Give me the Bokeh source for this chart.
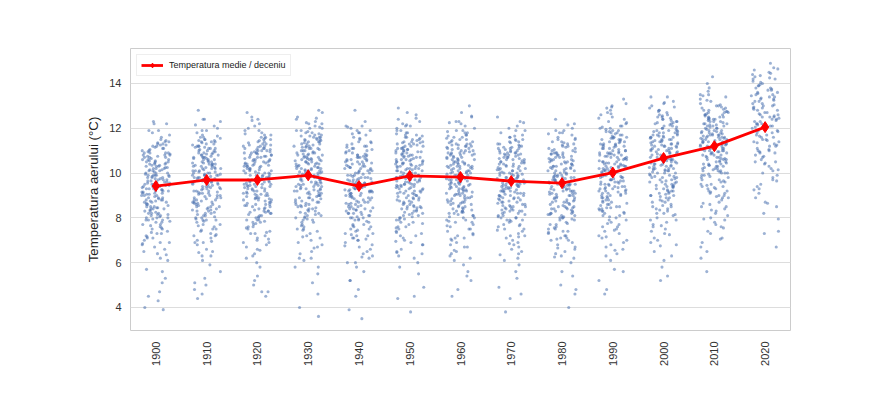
import math
from bokeh.plotting import figure
from bokeh.models import ColumnDataSource, Range1d, FactorRange, FixedTicker
from bokeh.transform import jitter
from bokeh.embed import file_html
from bokeh.resources import INLINE

decades = ["1900", "1910", "1920", "1930", "1940", "1950", "1960",
           "1970", "1980", "1990", "2000", "2010", "2020"]

decade_means = [9.42, 9.69, 9.69, 9.90, 9.42, 9.87, 9.82,
                9.64, 9.55, 10.02, 10.67, 11.20, 12.05]

t_1900 = [3.9, 4.0, 4.3, 4.5, 4.7, 5.1, 5.3, 5.6, 5.7,
          6.1, 6.2, 6.4, 6.5, 6.6, 6.7, 6.8, 6.9, 6.9,
          7.0, 7.1, 7.1, 7.2, 7.3, 7.3, 7.4, 7.5, 7.5, 7.6, 7.7, 7.7, 7.8, 7.8, 7.9, 7.9, 7.9,
          8.0, 8.0, 8.0, 8.1, 8.1, 8.2, 8.2, 8.2, 8.3, 8.3, 8.4, 8.4, 8.4, 8.5, 8.5, 8.5, 8.6, 8.6,
          8.7, 8.7, 8.7, 8.8, 8.8, 8.8, 8.9, 8.9, 8.9,
          9.0, 9.0, 9.0, 9.1, 9.1, 9.1, 9.2, 9.2, 9.2, 9.3, 9.3, 9.3, 9.4, 9.4, 9.4, 9.4, 9.5, 9.5,
          9.5, 9.6, 9.6, 9.6, 9.7, 9.7, 9.7, 9.8, 9.8, 9.8, 9.9, 9.9, 9.9, 9.9, 9.9,
          10.0, 10.0, 10.0, 10.1, 10.1, 10.1, 10.2, 10.2, 10.2, 10.3, 10.3, 10.3, 10.4, 10.4, 10.4,
          10.5, 10.5, 10.5, 10.6, 10.6, 10.6, 10.7, 10.7, 10.7, 10.8, 10.8, 10.8, 10.9, 10.9, 10.9, 10.9,
          11.0, 11.0, 11.1, 11.1, 11.2, 11.2, 11.3, 11.3, 11.4, 11.4, 11.5, 11.6, 11.7, 11.8, 11.9, 11.9,
          12.2, 12.2, 12.3,
          6.35, 6.85, 7.15, 7.35, 7.55, 7.65, 7.85, 7.95,
          8.05, 8.15, 8.25, 8.35, 8.45, 8.55, 8.65, 8.75, 8.85, 8.95, 8.15, 8.45, 8.75,
          9.05, 9.15, 9.25, 9.35, 9.45, 9.55, 9.65, 9.75, 9.85, 9.95, 9.05, 9.25, 9.45, 9.65, 9.85,
          9.15, 9.55, 9.75,
          10.05, 10.15, 10.25, 10.35, 10.45, 10.55, 10.65, 10.75, 10.85, 10.95, 10.15, 10.35, 10.55,
          10.75, 10.25, 10.45,
          11.05, 11.15, 11.25, 11.35, 11.45, 11.25]

t_1910 = [4.4, 4.6, 4.8, 5.0, 5.1, 5.3, 5.6, 5.9,
          6.1, 6.3, 6.3, 6.5, 6.6, 6.8, 6.9, 6.9,
          7.0, 7.1, 7.2, 7.2, 7.3, 7.4, 7.5, 7.5, 7.6, 7.7, 7.7, 7.8, 7.9, 7.9, 7.9,
          8.0, 8.0, 8.1, 8.1, 8.2, 8.2, 8.3, 8.3, 8.4, 8.4, 8.5, 8.5, 8.5, 8.6, 8.6, 8.7, 8.7, 8.7,
          8.8, 8.8, 8.8, 8.9, 8.9, 8.9,
          9.0, 9.0, 9.0, 9.1, 9.1, 9.1, 9.2, 9.2, 9.2, 9.3, 9.3, 9.3, 9.4, 9.4, 9.4, 9.5, 9.5, 9.5,
          9.6, 9.6, 9.6, 9.7, 9.7, 9.7, 9.8, 9.8, 9.8, 9.9, 9.9, 9.9, 9.9, 9.9,
          10.0, 10.0, 10.0, 10.1, 10.1, 10.1, 10.2, 10.2, 10.2, 10.2, 10.3, 10.3, 10.3, 10.4, 10.4,
          10.4, 10.4, 10.5, 10.5, 10.5, 10.6, 10.6, 10.6, 10.7, 10.7, 10.7, 10.7, 10.8, 10.8, 10.8,
          10.9, 10.9, 10.9,
          11.0, 11.0, 11.0, 11.1, 11.1, 11.1, 11.2, 11.2, 11.2, 11.3, 11.3, 11.4, 11.4, 11.4, 11.5,
          11.5, 11.6, 11.6, 11.7, 11.8, 11.9, 11.9,
          12.0, 12.1, 12.3, 12.4, 12.4, 12.8,
          6.45, 6.95, 7.25, 7.45, 7.65, 7.85, 7.95,
          8.05, 8.15, 8.25, 8.35, 8.45, 8.55, 8.65, 8.75, 8.85, 8.95, 8.35, 8.65,
          9.05, 9.15, 9.25, 9.35, 9.45, 9.55, 9.65, 9.75, 9.85, 9.95, 9.15, 9.35, 9.55, 9.75, 9.95,
          10.05, 10.15, 10.25, 10.35, 10.45, 10.55, 10.65, 10.75, 10.85, 10.95, 10.05, 10.25, 10.45,
          10.65, 10.85, 10.35,
          11.05, 11.15, 11.25, 11.35, 11.45, 11.55, 11.65, 11.15, 11.45, 12.15]

t_1920 = [4.5, 4.7, 4.7, 5.0, 5.2, 5.4, 5.8,
          6.0, 6.2, 6.3, 6.4, 6.6, 6.7, 6.8, 6.9, 6.9,
          7.0, 7.1, 7.2, 7.3, 7.3, 7.4, 7.5, 7.6, 7.6, 7.7, 7.8, 7.8, 7.9, 7.9, 7.9,
          8.0, 8.0, 8.1, 8.1, 8.2, 8.2, 8.3, 8.3, 8.3, 8.4, 8.4, 8.5, 8.5, 8.6, 8.6, 8.6, 8.7, 8.7,
          8.8, 8.8, 8.8, 8.9, 8.9, 8.9,
          9.0, 9.0, 9.0, 9.1, 9.1, 9.1, 9.2, 9.2, 9.2, 9.3, 9.3, 9.3, 9.4, 9.4, 9.4, 9.5, 9.5, 9.5,
          9.5, 9.6, 9.6, 9.6, 9.7, 9.7, 9.7, 9.8, 9.8, 9.8, 9.9, 9.9, 9.9,
          10.0, 10.0, 10.0, 10.0, 10.1, 10.1, 10.1, 10.2, 10.2, 10.2, 10.3, 10.3, 10.3, 10.3, 10.4,
          10.4, 10.4, 10.5, 10.5, 10.5, 10.6, 10.6, 10.6, 10.7, 10.7, 10.7, 10.8, 10.8, 10.8, 10.9,
          10.9, 10.9, 10.9,
          11.0, 11.0, 11.0, 11.1, 11.1, 11.1, 11.2, 11.2, 11.2, 11.3, 11.3, 11.4, 11.4, 11.5, 11.5,
          11.6, 11.6, 11.7, 11.7, 11.8, 11.9, 11.9,
          12.0, 12.1, 12.2, 12.4, 12.5, 12.7,
          6.55, 7.05, 7.35, 7.55, 7.75, 7.85,
          8.05, 8.15, 8.25, 8.35, 8.45, 8.55, 8.65, 8.75, 8.85, 8.95, 8.25, 8.55, 8.85,
          9.05, 9.15, 9.25, 9.35, 9.45, 9.55, 9.65, 9.75, 9.85, 9.95, 9.05, 9.35, 9.65, 9.85, 9.45,
          10.05, 10.15, 10.25, 10.35, 10.45, 10.55, 10.65, 10.75, 10.85, 10.95, 10.15, 10.35, 10.55,
          10.75, 10.95, 10.45,
          11.05, 11.15, 11.25, 11.35, 11.45, 11.55, 11.75, 11.25, 11.05, 12.35]

t_1930 = [3.6, 4.0, 4.6, 5.1, 5.5, 5.8, 5.8,
          6.1, 6.2, 6.2, 6.4, 6.5, 6.7, 6.8, 6.9,
          7.0, 7.1, 7.2, 7.3, 7.4, 7.5, 7.5, 7.6, 7.7, 7.8, 7.8, 7.9, 7.9,
          8.0, 8.0, 8.1, 8.1, 8.2, 8.2, 8.3, 8.3, 8.4, 8.4, 8.5, 8.5, 8.6, 8.6, 8.7, 8.7, 8.7, 8.8,
          8.8, 8.9, 8.9, 8.9,
          9.0, 9.0, 9.0, 9.1, 9.1, 9.1, 9.2, 9.2, 9.2, 9.3, 9.3, 9.3, 9.4, 9.4, 9.4, 9.5, 9.5, 9.5,
          9.6, 9.6, 9.6, 9.7, 9.7, 9.7, 9.8, 9.8, 9.8, 9.9, 9.9, 9.9,
          10.0, 10.0, 10.0, 10.0, 10.1, 10.1, 10.1, 10.2, 10.2, 10.2, 10.2, 10.3, 10.3, 10.3, 10.4,
          10.4, 10.4, 10.4, 10.5, 10.5, 10.5, 10.6, 10.6, 10.6, 10.6, 10.7, 10.7, 10.7, 10.8, 10.8,
          10.8, 10.9, 10.9, 10.9,
          11.0, 11.0, 11.0, 11.1, 11.1, 11.1, 11.2, 11.2, 11.2, 11.3, 11.3, 11.3, 11.4, 11.4, 11.4,
          11.5, 11.5, 11.5, 11.6, 11.6, 11.6, 11.7, 11.7, 11.8, 11.8, 11.9, 11.9,
          12.0, 12.0, 12.1, 12.2, 12.2, 12.3, 12.4, 12.5, 12.7, 12.8,
          6.65, 7.15, 7.45, 7.65, 7.95,
          8.05, 8.25, 8.35, 8.45, 8.55, 8.65, 8.75, 8.85, 8.95, 8.15, 8.55,
          9.05, 9.15, 9.25, 9.35, 9.45, 9.55, 9.65, 9.75, 9.85, 9.95, 9.25, 9.55, 9.75, 9.95, 9.45,
          10.05, 10.15, 10.25, 10.35, 10.45, 10.55, 10.65, 10.75, 10.85, 10.95, 10.05, 10.25, 10.45,
          10.65, 10.85, 10.15, 10.55,
          11.05, 11.15, 11.25, 11.35, 11.45, 11.55, 11.65, 11.75, 11.85, 11.15, 11.45, 11.65,
          12.05, 12.25, 12.45]

t_1940 = [3.5, 3.9, 4.5, 4.8, 5.2, 5.2, 5.6, 5.8,
          6.0, 6.0, 6.2, 6.3, 6.4, 6.5, 6.6, 6.7, 6.8, 6.9,
          7.0, 7.0, 7.1, 7.1, 7.2, 7.2, 7.3, 7.3, 7.4, 7.5, 7.5, 7.6, 7.6, 7.7, 7.7, 7.8, 7.9, 7.9,
          8.0, 8.0, 8.0, 8.1, 8.1, 8.2, 8.2, 8.2, 8.3, 8.3, 8.4, 8.4, 8.4, 8.5, 8.5, 8.5, 8.6, 8.6,
          8.7, 8.7, 8.7, 8.8, 8.8, 8.9, 8.9, 8.9,
          9.0, 9.0, 9.0, 9.1, 9.1, 9.1, 9.2, 9.2, 9.2, 9.2, 9.3, 9.3, 9.3, 9.4, 9.4, 9.4, 9.5, 9.5,
          9.5, 9.5, 9.6, 9.6, 9.6, 9.7, 9.7, 9.7, 9.8, 9.8, 9.8, 9.9, 9.9, 9.9,
          10.0, 10.0, 10.0, 10.1, 10.1, 10.1, 10.2, 10.2, 10.2, 10.3, 10.3, 10.3, 10.4, 10.4, 10.4,
          10.5, 10.5, 10.5, 10.6, 10.6, 10.6, 10.7, 10.7, 10.7, 10.8, 10.8, 10.8, 10.9, 10.9,
          11.0, 11.0, 11.1, 11.1, 11.2, 11.2, 11.3, 11.4, 11.4, 11.5, 11.6, 11.7, 11.8, 11.8, 11.9, 11.9,
          12.0, 12.1, 12.1, 12.3, 12.8,
          6.25, 6.75, 7.05, 7.25, 7.45, 7.65, 7.85, 7.95,
          8.05, 8.15, 8.25, 8.35, 8.45, 8.55, 8.65, 8.75, 8.85, 8.95, 8.35, 8.65, 8.95,
          9.05, 9.15, 9.25, 9.35, 9.45, 9.55, 9.65, 9.75, 9.85, 9.95, 9.15, 9.35, 9.55, 9.75, 9.25,
          10.05, 10.15, 10.25, 10.35, 10.45, 10.55, 10.65, 10.75, 10.85, 10.95, 10.25, 10.55, 10.75,
          11.05, 11.15, 11.25, 11.35, 11.55, 11.75, 12.05]

t_1950 = [3.8, 4.4, 4.5, 4.9, 5.5, 5.8,
          6.0, 6.2, 6.3, 6.4, 6.5, 6.6, 6.8, 6.8, 6.9,
          7.0, 7.1, 7.2, 7.2, 7.3, 7.4, 7.5, 7.6, 7.6, 7.7, 7.8, 7.8, 7.9, 7.9,
          8.0, 8.0, 8.1, 8.1, 8.2, 8.2, 8.3, 8.3, 8.4, 8.4, 8.5, 8.5, 8.5, 8.6, 8.6, 8.7, 8.7, 8.8,
          8.8, 8.9, 8.9, 8.9,
          9.0, 9.0, 9.0, 9.1, 9.1, 9.1, 9.2, 9.2, 9.2, 9.3, 9.3, 9.3, 9.4, 9.4, 9.4, 9.5, 9.5, 9.5,
          9.5, 9.6, 9.6, 9.6, 9.7, 9.7, 9.7, 9.8, 9.8, 9.8, 9.9, 9.9, 9.9,
          10.0, 10.0, 10.0, 10.0, 10.1, 10.1, 10.1, 10.2, 10.2, 10.2, 10.2, 10.3, 10.3, 10.3, 10.4,
          10.4, 10.4, 10.4, 10.5, 10.5, 10.5, 10.6, 10.6, 10.6, 10.6, 10.7, 10.7, 10.7, 10.8, 10.8,
          10.8, 10.9, 10.9, 10.9,
          11.0, 11.0, 11.0, 11.1, 11.1, 11.1, 11.2, 11.2, 11.2, 11.3, 11.3, 11.3, 11.4, 11.4, 11.4,
          11.5, 11.5, 11.6, 11.6, 11.7, 11.7, 11.8, 11.8, 11.9, 11.9,
          12.0, 12.1, 12.1, 12.2, 12.3, 12.4, 12.6, 12.7, 12.9,
          6.45, 6.95, 7.35, 7.55, 7.75, 7.95,
          8.05, 8.15, 8.25, 8.35, 8.45, 8.55, 8.65, 8.75, 8.85, 8.95, 8.45, 8.75,
          9.05, 9.15, 9.25, 9.35, 9.45, 9.55, 9.65, 9.75, 9.85, 9.95, 9.15, 9.45, 9.65, 9.85, 9.35,
          10.05, 10.15, 10.25, 10.35, 10.45, 10.55, 10.65, 10.75, 10.85, 10.95, 10.15, 10.35, 10.55,
          10.75, 10.95, 10.45,
          11.05, 11.15, 11.25, 11.35, 11.45, 11.55, 11.65, 11.75, 11.35, 11.05, 12.15, 12.45]

t_1960 = [4.5, 4.8, 5.2, 5.4, 5.6, 5.9,
          6.1, 6.2, 6.3, 6.4, 6.5, 6.7, 6.7, 6.8, 6.9,
          7.0, 7.1, 7.1, 7.2, 7.3, 7.4, 7.5, 7.5, 7.6, 7.7, 7.8, 7.8, 7.9, 7.9,
          8.0, 8.0, 8.1, 8.1, 8.2, 8.2, 8.3, 8.3, 8.3, 8.4, 8.4, 8.5, 8.5, 8.6, 8.6, 8.7, 8.7, 8.7,
          8.8, 8.8, 8.9, 8.9, 8.9,
          9.0, 9.0, 9.0, 9.1, 9.1, 9.1, 9.2, 9.2, 9.2, 9.3, 9.3, 9.3, 9.4, 9.4, 9.4, 9.5, 9.5, 9.5,
          9.5, 9.6, 9.6, 9.6, 9.7, 9.7, 9.7, 9.8, 9.8, 9.8, 9.9, 9.9, 9.9,
          10.0, 10.0, 10.0, 10.0, 10.1, 10.1, 10.1, 10.2, 10.2, 10.2, 10.3, 10.3, 10.3, 10.3, 10.4,
          10.4, 10.4, 10.5, 10.5, 10.5, 10.6, 10.6, 10.6, 10.7, 10.7, 10.7, 10.8, 10.8, 10.8, 10.9,
          10.9, 10.9, 10.9,
          11.0, 11.0, 11.0, 11.1, 11.1, 11.1, 11.2, 11.2, 11.2, 11.3, 11.3, 11.3, 11.4, 11.4, 11.5,
          11.5, 11.6, 11.6, 11.7, 11.7, 11.8, 11.8, 11.9, 11.9,
          12.0, 12.1, 12.2, 12.3, 12.3, 12.5, 12.7, 13.0,
          6.55, 7.05, 7.25, 7.65, 7.85,
          8.05, 8.15, 8.25, 8.35, 8.45, 8.55, 8.65, 8.75, 8.85, 8.95, 8.25, 8.65,
          9.05, 9.15, 9.25, 9.35, 9.45, 9.55, 9.65, 9.75, 9.85, 9.95, 9.05, 9.35, 9.55, 9.75, 9.95,
          9.25,
          10.05, 10.15, 10.25, 10.35, 10.45, 10.55, 10.65, 10.75, 10.85, 10.95, 10.05, 10.25, 10.45,
          10.65, 10.85, 10.35,
          11.05, 11.15, 11.25, 11.35, 11.45, 11.55, 11.65, 11.85, 11.25, 12.25, 12.55]

t_1970 = [3.8, 4.4, 4.6, 4.9, 5.3, 5.6, 5.9,
          6.1, 6.2, 6.4, 6.5, 6.6, 6.7, 6.8, 6.9,
          7.0, 7.1, 7.2, 7.2, 7.3, 7.4, 7.5, 7.5, 7.6, 7.7, 7.7, 7.8, 7.9, 7.9, 7.9,
          8.0, 8.0, 8.0, 8.1, 8.1, 8.2, 8.2, 8.3, 8.3, 8.3, 8.4, 8.4, 8.5, 8.5, 8.5, 8.6, 8.6, 8.7,
          8.7, 8.7, 8.8, 8.8, 8.9, 8.9, 8.9,
          9.0, 9.0, 9.0, 9.0, 9.1, 9.1, 9.1, 9.2, 9.2, 9.2, 9.2, 9.3, 9.3, 9.3, 9.4, 9.4, 9.4, 9.4,
          9.5, 9.5, 9.5, 9.6, 9.6, 9.6, 9.6, 9.7, 9.7, 9.7, 9.8, 9.8, 9.8, 9.9, 9.9, 9.9,
          10.0, 10.0, 10.0, 10.0, 10.1, 10.1, 10.1, 10.2, 10.2, 10.2, 10.3, 10.3, 10.3, 10.4, 10.4,
          10.4, 10.5, 10.5, 10.5, 10.6, 10.6, 10.6, 10.7, 10.7, 10.7, 10.8, 10.8, 10.8, 10.9, 10.9,
          10.9, 10.9,
          11.0, 11.0, 11.0, 11.1, 11.1, 11.1, 11.2, 11.2, 11.3, 11.3, 11.4, 11.4, 11.5, 11.5, 11.6,
          11.6, 11.7, 11.8, 11.9, 11.9,
          12.0, 12.1, 12.3, 12.5,
          6.35, 6.85, 7.15, 7.45, 7.65, 7.85,
          8.05, 8.15, 8.25, 8.35, 8.45, 8.55, 8.65, 8.75, 8.85, 8.95, 8.35, 8.55, 8.85,
          9.05, 9.15, 9.25, 9.35, 9.45, 9.55, 9.65, 9.75, 9.85, 9.95, 9.15, 9.35, 9.55, 9.75, 9.95,
          9.45,
          10.05, 10.15, 10.25, 10.35, 10.45, 10.55, 10.65, 10.75, 10.85, 10.95, 10.15, 10.45, 10.65,
          10.85,
          11.05, 11.15, 11.25, 11.35, 11.45, 11.65, 11.15, 12.25]

t_1980 = [4.0, 4.6, 4.8, 5.0, 5.4, 5.6,
          6.0, 6.2, 6.3, 6.4, 6.5, 6.6, 6.7, 6.8, 6.9,
          7.0, 7.0, 7.1, 7.1, 7.2, 7.2, 7.3, 7.4, 7.4, 7.5, 7.5, 7.6, 7.7, 7.7, 7.8, 7.9, 7.9,
          8.0, 8.0, 8.0, 8.1, 8.1, 8.2, 8.2, 8.2, 8.3, 8.3, 8.4, 8.4, 8.4, 8.5, 8.5, 8.5, 8.6, 8.6,
          8.7, 8.7, 8.7, 8.8, 8.8, 8.9, 8.9, 8.9,
          9.0, 9.0, 9.0, 9.1, 9.1, 9.1, 9.2, 9.2, 9.2, 9.2, 9.3, 9.3, 9.3, 9.4, 9.4, 9.4, 9.5, 9.5,
          9.5, 9.5, 9.6, 9.6, 9.6, 9.7, 9.7, 9.7, 9.8, 9.8, 9.8, 9.8, 9.9, 9.9, 9.9,
          10.0, 10.0, 10.0, 10.1, 10.1, 10.1, 10.2, 10.2, 10.2, 10.3, 10.3, 10.3, 10.4, 10.4, 10.4,
          10.5, 10.5, 10.5, 10.6, 10.6, 10.6, 10.7, 10.7, 10.7, 10.8, 10.8, 10.8, 10.9, 10.9, 10.9,
          10.9,
          11.0, 11.0, 11.1, 11.1, 11.2, 11.2, 11.3, 11.3, 11.4, 11.4, 11.5, 11.5, 11.6, 11.7, 11.8,
          11.8, 11.9, 11.9,
          12.0, 12.2, 12.4,
          6.25, 6.65, 7.05, 7.35, 7.55, 7.75, 7.95,
          8.05, 8.15, 8.25, 8.35, 8.45, 8.55, 8.65, 8.75, 8.85, 8.95, 8.15, 8.45, 8.75,
          9.05, 9.15, 9.25, 9.35, 9.45, 9.55, 9.65, 9.75, 9.85, 9.95, 9.05, 9.25, 9.45, 9.65, 9.85,
          10.05, 10.15, 10.25, 10.35, 10.45, 10.55, 10.65, 10.75, 10.85, 10.95, 10.25, 10.55, 10.85,
          11.05, 11.15, 11.25, 11.35, 11.55, 11.75, 12.15]

t_1990 = [4.6, 4.8, 5.2, 5.6, 5.7,
          6.1, 6.3, 6.4, 6.6, 6.7, 6.8, 6.9,
          7.0, 7.1, 7.2, 7.3, 7.4, 7.5, 7.6, 7.6, 7.7, 7.8, 7.9, 7.9,
          8.0, 8.1, 8.1, 8.2, 8.2, 8.3, 8.3, 8.4, 8.4, 8.5, 8.5, 8.6, 8.6, 8.7, 8.7, 8.8, 8.8, 8.9,
          8.9, 8.9,
          9.0, 9.0, 9.0, 9.1, 9.1, 9.1, 9.2, 9.2, 9.2, 9.3, 9.3, 9.3, 9.4, 9.4, 9.4, 9.5, 9.5, 9.5,
          9.6, 9.6, 9.6, 9.7, 9.7, 9.7, 9.8, 9.8, 9.8, 9.9, 9.9, 9.9,
          10.0, 10.0, 10.0, 10.0, 10.1, 10.1, 10.1, 10.2, 10.2, 10.2, 10.3, 10.3, 10.3, 10.3, 10.4,
          10.4, 10.4, 10.5, 10.5, 10.5, 10.6, 10.6, 10.6, 10.7, 10.7, 10.7, 10.8, 10.8, 10.8, 10.9,
          10.9, 10.9, 10.9,
          11.0, 11.0, 11.0, 11.1, 11.1, 11.1, 11.2, 11.2, 11.2, 11.3, 11.3, 11.3, 11.4, 11.4, 11.4,
          11.5, 11.5, 11.5, 11.6, 11.6, 11.6, 11.7, 11.7, 11.8, 11.8, 11.9, 11.9,
          12.0, 12.0, 12.1, 12.1, 12.2, 12.3, 12.4, 12.5, 12.6, 12.7, 12.8, 12.9,
          13.0, 13.1, 13.3,
          6.55, 7.15, 7.45, 7.75,
          8.05, 8.25, 8.35, 8.45, 8.55, 8.65, 8.75, 8.95, 8.45,
          9.05, 9.15, 9.25, 9.35, 9.45, 9.55, 9.65, 9.75, 9.85, 9.95, 9.35, 9.65, 9.85,
          10.05, 10.15, 10.25, 10.35, 10.45, 10.55, 10.65, 10.75, 10.85, 10.95, 10.05, 10.25, 10.45,
          10.65, 10.85, 10.35, 10.75,
          11.05, 11.15, 11.25, 11.35, 11.45, 11.55, 11.65, 11.75, 11.85, 11.95, 11.25, 11.55, 11.85,
          12.05, 12.25, 12.45, 12.65, 12.95]

t_2000 = [5.2, 5.4, 5.8,
          6.1, 6.3, 6.5, 6.8, 6.9,
          7.0, 7.1, 7.3, 7.4, 7.5, 7.6, 7.7, 7.8, 7.9, 7.9,
          8.0, 8.1, 8.2, 8.2, 8.3, 8.4, 8.4, 8.5, 8.5, 8.6, 8.7, 8.7, 8.8, 8.8, 8.9, 8.9,
          9.0, 9.0, 9.0, 9.1, 9.1, 9.2, 9.2, 9.2, 9.3, 9.3, 9.4, 9.4, 9.4, 9.5, 9.5, 9.6, 9.6, 9.6,
          9.7, 9.7, 9.8, 9.8, 9.8, 9.9, 9.9,
          10.0, 10.0, 10.0, 10.1, 10.1, 10.1, 10.2, 10.2, 10.2, 10.2, 10.3, 10.3, 10.3, 10.4, 10.4,
          10.4, 10.5, 10.5, 10.5, 10.6, 10.6, 10.6, 10.6, 10.7, 10.7, 10.7, 10.8, 10.8, 10.8, 10.9,
          10.9, 10.9,
          11.0, 11.0, 11.0, 11.1, 11.1, 11.1, 11.2, 11.2, 11.2, 11.2, 11.3, 11.3, 11.3, 11.4, 11.4,
          11.4, 11.5, 11.5, 11.5, 11.6, 11.6, 11.6, 11.6, 11.7, 11.7, 11.7, 11.8, 11.8, 11.8, 11.9,
          11.9, 11.9,
          12.0, 12.0, 12.1, 12.1, 12.2, 12.2, 12.3, 12.3, 12.4, 12.4, 12.5, 12.5, 12.6, 12.6, 12.7,
          12.8, 12.8, 12.9,
          13.0, 13.1, 13.2, 13.4, 13.4,
          6.75, 7.25, 7.65,
          8.15, 8.35, 8.55, 8.75, 8.95,
          9.05, 9.15, 9.25, 9.35, 9.45, 9.55, 9.65, 9.75, 9.85, 9.95, 9.45, 9.85,
          10.05, 10.15, 10.25, 10.35, 10.45, 10.55, 10.65, 10.75, 10.85, 10.95, 10.15, 10.35, 10.55,
          10.75, 10.95, 10.45,
          11.05, 11.15, 11.25, 11.35, 11.45, 11.55, 11.65, 11.75, 11.85, 11.95, 11.05, 11.25, 11.45,
          11.65, 11.85, 11.35,
          12.05, 12.15, 12.25, 12.35, 12.45, 12.55, 12.75, 12.95, 12.25, 13.15]

t_2010 = [5.6, 6.2, 6.5, 6.7, 6.9,
          7.1, 7.3, 7.4, 7.6, 7.7, 7.8, 7.9,
          8.0, 8.1, 8.2, 8.3, 8.4, 8.5, 8.5, 8.6, 8.7, 8.8, 8.9, 8.9,
          9.0, 9.0, 9.1, 9.1, 9.2, 9.2, 9.3, 9.3, 9.4, 9.4, 9.5, 9.5, 9.6, 9.6, 9.7, 9.7, 9.8, 9.8,
          9.9, 9.9,
          10.0, 10.0, 10.0, 10.1, 10.1, 10.1, 10.2, 10.2, 10.2, 10.3, 10.3, 10.3, 10.4, 10.4, 10.4,
          10.5, 10.5, 10.5, 10.6, 10.6, 10.6, 10.7, 10.7, 10.7, 10.8, 10.8, 10.8, 10.9, 10.9, 10.9,
          11.0, 11.0, 11.0, 11.0, 11.1, 11.1, 11.1, 11.1, 11.2, 11.2, 11.2, 11.2, 11.3, 11.3, 11.3,
          11.3, 11.4, 11.4, 11.4, 11.4, 11.5, 11.5, 11.5, 11.5, 11.6, 11.6, 11.6, 11.6, 11.7, 11.7,
          11.7, 11.7, 11.8, 11.8, 11.8, 11.9, 11.9, 11.9,
          12.0, 12.0, 12.0, 12.1, 12.1, 12.1, 12.2, 12.2, 12.2, 12.3, 12.3, 12.3, 12.4, 12.4, 12.4,
          12.5, 12.5, 12.5, 12.6, 12.6, 12.6, 12.7, 12.7, 12.7, 12.8, 12.8, 12.9, 12.9,
          13.0, 13.0, 13.1, 13.2, 13.3, 13.4, 13.5, 13.5, 13.8,
          14.0, 14.3,
          7.05, 7.55, 7.95,
          8.35, 8.65, 8.95,
          9.15, 9.35, 9.45, 9.65, 9.85, 9.95,
          10.05, 10.15, 10.25, 10.35, 10.45, 10.55, 10.65, 10.75, 10.85, 10.95, 10.35, 10.65, 10.95,
          11.05, 11.15, 11.25, 11.35, 11.45, 11.55, 11.65, 11.75, 11.85, 11.95, 11.05, 11.25, 11.45,
          11.65, 11.85, 11.15, 11.55, 11.75,
          12.05, 12.15, 12.25, 12.35, 12.45, 12.55, 12.65, 12.75, 12.85, 12.95, 12.15, 12.45, 12.75,
          13.05, 13.25, 13.45, 13.65]

t_2020 = [6.7, 7.3, 7.4,
          8.2, 8.5, 8.7, 8.9,
          9.1, 9.3, 9.4, 9.5, 9.7, 9.8, 9.9,
          10.0, 10.1, 10.2, 10.3, 10.4, 10.5, 10.5, 10.6, 10.7, 10.8, 10.9, 10.9,
          11.0, 11.0, 11.1, 11.2, 11.2, 11.3, 11.4, 11.4, 11.5, 11.5, 11.6, 11.6, 11.7, 11.7, 11.8,
          11.8, 11.9, 11.9,
          12.0, 12.0, 12.1, 12.1, 12.2, 12.2, 12.2, 12.3, 12.3, 12.4, 12.4, 12.5, 12.5, 12.5, 12.6,
          12.6, 12.7, 12.7, 12.8, 12.8, 12.9, 12.9,
          13.0, 13.0, 13.1, 13.1, 13.2, 13.2, 13.3, 13.3, 13.4, 13.4, 13.5, 13.5, 13.6, 13.6, 13.7,
          13.7, 13.8, 13.8, 13.9, 13.9,
          14.0, 14.1, 14.2, 14.2, 14.3, 14.4, 14.5, 14.6, 14.7, 14.9,
          7.95, 8.65, 9.25, 9.65,
          10.15, 10.45, 10.75, 10.95,
          11.05, 11.25, 11.45, 11.65, 11.85, 11.35,
          12.05, 12.15, 12.35, 12.45, 12.65, 12.85, 12.95, 12.55,
          13.05, 13.25, 13.45, 13.55, 13.75, 13.95, 13.35,
          14.05, 14.25, 14.45, 14.65, 14.35]

y_ticks = [4, 6, 8, 10, 12, 14]

series = [t_1900, t_1910, t_1920, t_1930, t_1940, t_1950, t_1960,
          t_1970, t_1980, t_1990, t_2000, t_2010, t_2020]

xs, ys = [], []
for dec, vals in zip(decades, series):
    xs.extend([dec] * len(vals))
    ys.extend(vals)
pts = ColumnDataSource(data=dict(x=xs, y=ys))
means = ColumnDataSource(data=dict(x=decades, y=decade_means))

FONT = "Liberation Sans"

p = figure(width=875, height=383,
           x_range=FactorRange(factors=decades),
           y_range=Range1d(2.97, 15.56),
           output_backend="svg", toolbar_location=None,
           min_border_left=130, min_border_right=85,
           min_border_top=48, min_border_bottom=53,
           background_fill_color="white", border_fill_color="white")

p.scatter(x=jitter("x", width=0.56, range=p.x_range, distribution="uniform"), y="y",
          source=pts, size=3.1, fill_color="#4C72B0", fill_alpha=0.55, line_color=None)

lbl = "Temperatura medie / deceniu"
p.line(x="x", y="y", source=means, line_color="#ff0000", line_width=2.8, legend_label=lbl)
p.scatter(x="x", y="y", source=means, marker="diamond", size=11,
          fill_color="#ff0000", line_color="#ff0000", legend_label=lbl)

p.outline_line_color = "#cccccc"
p.outline_line_width = 1
p.xgrid.grid_line_color = None
p.ygrid.grid_line_color = "#dddddd"
p.ygrid.grid_line_width = 1

p.yaxis.ticker = FixedTicker(ticks=y_ticks)
p.yaxis.axis_label = "Temperatura aerului (°C)"
p.yaxis.axis_label_text_font = FONT
p.yaxis.axis_label_text_font_size = "13.3px"
p.yaxis.axis_label_text_font_style = "normal"
p.yaxis.axis_label_text_color = "#222222"
p.yaxis.axis_label_standoff = 5
p.yaxis.major_label_standoff = 9

for ax in (p.xaxis, p.yaxis):
    ax.axis_line_color = None
    ax.major_tick_line_color = None
    ax.minor_tick_line_color = None
    ax.major_tick_out = 0
    ax.major_tick_in = 0
    ax.major_label_text_font = FONT
    ax.major_label_text_font_size = "11px"
    ax.major_label_text_color = "#333333"

p.xaxis.major_label_orientation = math.pi / 2
p.xaxis.major_label_standoff = 11

p.legend.location = "top_left"
p.legend.margin = 6
p.legend.padding = 4
p.legend.spacing = 0
p.legend.glyph_width = 22
p.legend.glyph_height = 12
p.legend.label_height = 12
p.legend.label_text_font = FONT
p.legend.label_text_font_size = "9px"
p.legend.label_text_color = "#222222"
p.legend.label_standoff = 6
p.legend.border_line_color = "#dddddd"
p.legend.background_fill_alpha = 0.9

html = file_html(p, INLINE)
open("out.html", "w").write(html)
